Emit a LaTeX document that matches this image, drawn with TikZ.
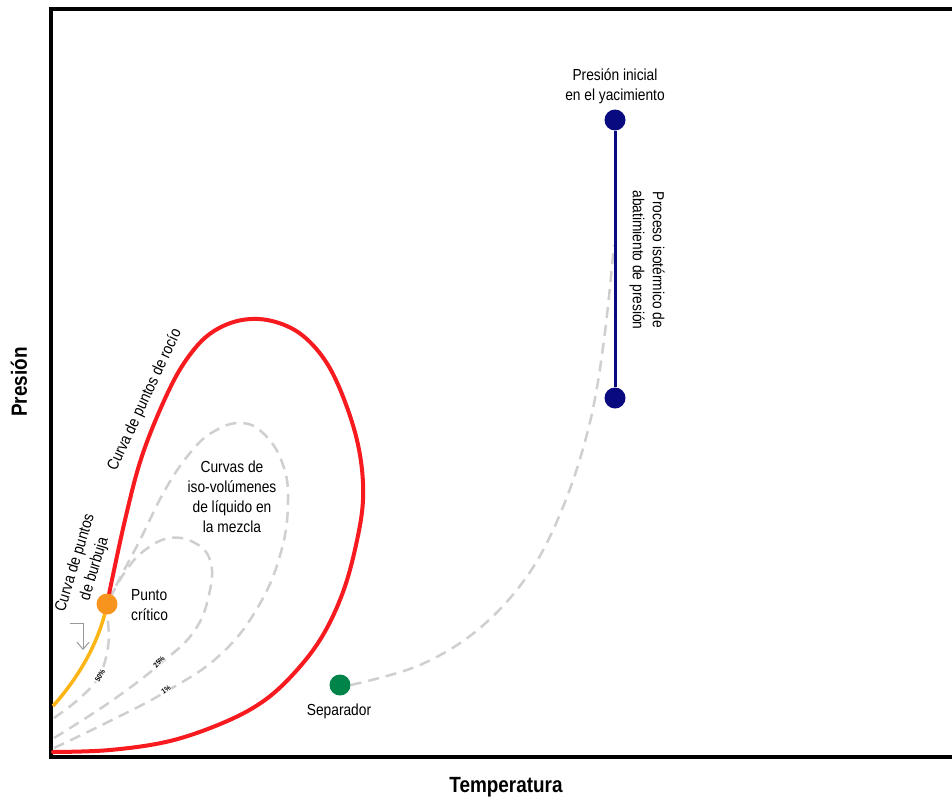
\documentclass[tikz,border=0pt]{standalone}
\usepackage{fontspec}
\setmainfont{Liberation Sans}[FakeStretch=0.86]
\usetikzlibrary{arrows.meta}
\definecolor{envred}{HTML}{F71A1F}
\definecolor{bubyel}{HTML}{FDB515}
\definecolor{critorg}{HTML}{F7941D}
\definecolor{navyb}{HTML}{0A0A80}
\definecolor{sepgreen}{HTML}{00844A}
\definecolor{dashgrey}{HTML}{CFCFCF}
\tikzset{
  lbl/.style={font=\fontsize{16}{20}\selectfont, align=center, inner sep=0pt},
  axislbl/.style={font=\fontsize{22}{24}\selectfont\bfseries, inner sep=0pt},
  pct/.style={font=\fontsize{7.5}{8}\selectfont\bfseries, inner sep=0pt},
  dotnode/.style={circle, minimum size=21pt, inner sep=0pt},
  isodash/.style={dashgrey, line width=2.5pt, dash pattern=on 11pt off 7pt, line cap=butt},
}
\begin{document}
\begin{tikzpicture}[x=1pt,y=-1pt]
\useasboundingbox (0,0) rectangle (952,800);
% frame
\draw[line width=4pt] (960,9) -- (51,9) -- (51,757) -- (960,757);
% axis labels
\node[axislbl, rotate=90] (ylab) at (19,382) {Presión};
\node[axislbl] (xlab) at (506,787) {Temperatura};
% iso-volume dashed curves
\draw[isodash] plot[smooth, tension=0.7] coordinates {(54,718) (80,698) (99,676) (108,647) (108,620) (107,604)};
\draw[isodash] plot[smooth, tension=0.7] coordinates {(54,738) (110,702) (160,664) (195,630) (210,590) (210,560) (195,543) (170,538) (145,550) (125,572) (107,604)};
\draw[isodash] plot[smooth, tension=0.7] coordinates {(54,748) (110,721) (167,691) (220,655) (258,607) (281,552) (288,500) (282,462) (263,433) (240,423) (213,432) (190,453) (165,490) (140,540) (120,578) (107,604)};
% percentage labels
\node[pct, rotate=60, fill=white, inner sep=0.5pt] (p50) at (100,676) {50\%};
\node[pct, rotate=48, fill=white, inner sep=0.5pt] (p25) at (159,662) {25\%};
\node[pct, rotate=35, fill=white, inner sep=0.5pt] (p1) at (166,690) {1\%};
% dew point envelope
\draw[envred, line width=4pt, line cap=round] plot[smooth, tension=0.6] coordinates {
 (53,752) (110,750) (170,741) (225,722) (265,700) (297,670) (323,635) (343,592) (356,545) (363,500)
 (360,455) (348,410) (328,365) (302,335) (272,321) (242,320) (214,331) (192,352) (170,388)
 (143,453) (125,520) (107,604)};
% bubble point curve
\draw[bubyel, line width=3.5pt] (53,706) .. controls (80,676) and (100,640) .. (107,604);
% process curve
\node[dotnode, fill=sepgreen] (sep) at (340,685) {};
\coordinate (procend) at (614,245);
\draw[isodash] plot[smooth, tension=0.6] coordinates {(sep.east) (420,665) (480,628) (530,572) (565,502) (590,422) (604,340) (procend)};
% pressure line
\node[dotnode, fill=navyb] (pini) at (615,120) {};
\node[dotnode, fill=navyb] (pfin) at (615,398) {};
\draw[navyb, line width=3pt] (pini) -- (pfin);
% critical point
\node[dotnode, fill=critorg] (crit) at (107,604) {};
% small arrow
\coordinate (arA) at (70,623);
\coordinate (arB) at (83,623);
\coordinate (arC) at (83,650);
\draw[gray!80, line width=1pt, -{Straight Barb[length=7pt,width=12pt]}] (arA) -- (arB) -- (arC);
% texts
\node[lbl] (tini) at (615,86) {Presión inicial\\en el yacimiento};
\node[lbl, rotate=-90] (tproc) at (647,260) {Proceso isotérmico de\\abatimiento de presión};
\node[lbl] (tsep) at (339,711) {Separador};
\node[lbl, align=left, anchor=west] (tcrit) at (131,605) {Punto\\crítico};
\node[lbl] (tiso) at (232,497) {Curvas de\\iso-volúmenes\\de líquido en\\la mezcla};
\node[lbl, rotate=65] (troc) at (145,400) {Curva de puntos de rocío};
\node[lbl, rotate=73] (tbub) at (85,566) {Curva de puntos\\de burbuja};
\end{tikzpicture}
\end{document}
